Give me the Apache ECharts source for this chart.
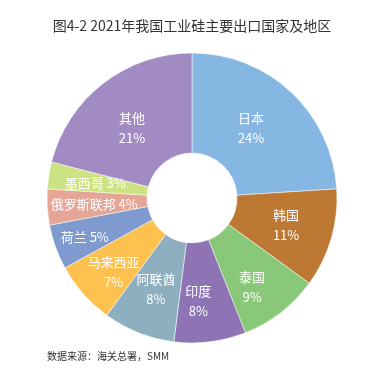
<!DOCTYPE html>
<html>
<head>
<meta charset="utf-8">
<script src="https://cdn.jsdelivr.net/npm/echarts@6/dist/echarts.min.js"></script>
<style>
  html, body { margin: 0; padding: 0; background: #fff; }
  #chart { width: 384px; height: 381px; }
</style>
</head>
<body>
<div id="chart"></div>
<script>
// 2021年我国工业硅主要出口国家及地区（占比 %）
var countries = ['日本', '韩国', '泰国', '印度', '阿联酋', '马来西亚', '荷兰', '俄罗斯联邦', '墨西哥', '其他'];
var shares = [24, 11, 9, 8, 8, 7, 5, 4, 3, 21];
var colors = ['#85b7e2', '#bd7933', '#89c879', '#8e74b4', '#8eafbf', '#fcc14e', '#7f9acf', '#e5a597', '#cde283', '#a28bc3'];
// 小扇区用单行标签
var oneLine = ['荷兰', '俄罗斯联邦', '墨西哥'];
// 标签微调（原图标签不完全在扇环中线上）
var labelNudge = {
  '日本': [-8, 2],
  '泰国': [0, 12],
  '印度': [-6, 6],
  '马来西亚': [-5, 9],
  '荷兰': [-15, 6],
  '其他': [0, 7]
};

var chart = echarts.init(document.getElementById('chart'));

var data = countries.map(function (name, i) {
  return {
    name: name,
    value: shares[i],
    itemStyle: { color: colors[i] },
    label: {
      formatter: oneLine.indexOf(name) >= 0 ? '{b} {c}%' : '{b}\n{c}%',
      offset: labelNudge[name] || [0, 0]
    }
  };
});

chart.setOption({
  animation: false,
  title: {
    text: '图4-2 2021年我国工业硅主要出口国家及地区',
    left: 'center',
    top: 14,
    textStyle: {
      fontFamily: 'Noto Sans CJK SC',
      fontSize: 14,
      fontWeight: 'normal',
      color: '#333'
    }
  },
  graphic: [{
    type: 'text',
    left: 47,
    top: 351,
    style: {
      text: '数据来源：海关总署，SMM',
      font: '10px "Noto Sans CJK SC"',
      fill: '#333'
    }
  }],
  series: [{
    type: 'pie',
    center: [192, 198],
    radius: [45, 145],
    startAngle: 90,
    clockwise: true,
    avoidLabelOverlap: false,
    labelLayout: { hideOverlap: false },
    data: data,
    itemStyle: { borderColor: '#fff', borderWidth: 0.5 },
    label: {
      show: true,
      position: 'inside',
      color: '#fff',
      fontSize: 13,
      lineHeight: 20,
      fontFamily: 'Noto Sans CJK SC'
    },
    labelLine: { show: false }
  }]
});
</script>
</body>
</html>
